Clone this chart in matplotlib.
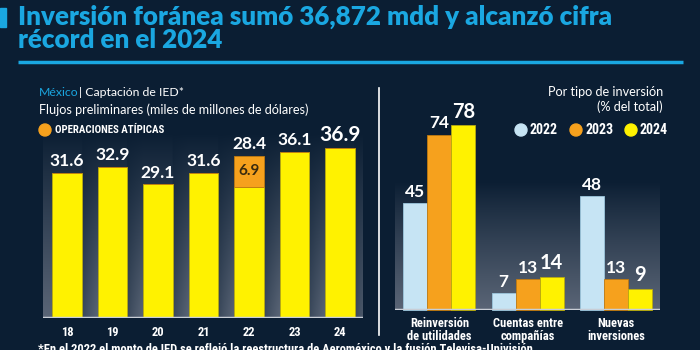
import numpy as np
import matplotlib
matplotlib.use("Agg")
import matplotlib.pyplot as plt
from matplotlib import font_manager
from matplotlib.colors import to_rgb
from matplotlib.patches import Circle, Rectangle

# ---- data ----
years = ["18", "19", "20", "21", "22", "23", "24"]
flows = [31.6, 32.9, 29.1, 31.6, 28.4, 36.1, 36.9]
atypical = [0, 0, 0, 0, 6.9, 0, 0]

categories = ["Reinversión\nde utilidades", "Cuentas entre\ncompañías", "Nuevas\ninversiones"]
legend_years = ["2022", "2023", "2024"]
share_2022 = [45, 7, 48]
share_2023 = [74, 13, 13]
share_2024 = [78, 14, 9]

BG = "#0b1e33"
CYAN = "#1aa7e1"
YELLOW = "#fff200"
ORANGE = "#f6a11d"
LBLUE = "#c6e4f4"
GREY = "#5a6576"
BASE = "#c9ced6"

names = {f.name for f in font_manager.fontManager.ttflist}
COND = next((n for n in ["Liberation Sans Narrow", "Roboto Condensed", "Open Sans Condensed"]
             if n in names), "Liberation Sans")
MAIN = "Lato" if "Lato" in names else "DejaVu Sans"

W, H = 700, 350
fig = plt.figure(figsize=(7, 3.5), dpi=100, facecolor=BG)


def box(x0, y0, x1, y1):
    return [x0 / W, 1 - y1 / H, (x1 - x0) / W, (y1 - y0) / H]


def fit(t, width):
    r = fig.canvas.get_renderer()
    w = t.get_window_extent(r).width
    t.set_fontsize(t.get_fontsize() * width / w)


def panel_bg(ax, xlim, ytop, bar_pos, bar_w, shadow=True):
    nx, ny = 400, 200
    xs = np.linspace(xlim[0], xlim[1], nx)
    t = np.linspace(0, 1, ny)[:, None]
    c0, c1 = np.array(to_rgb(BG)), np.array(to_rgb(GREY))
    fac = np.ones(nx)
    if shadow:
        gap = 1 - bar_w
        for p in bar_pos:
            d = xs - (p + bar_w / 2)
            m = (d >= 0) & (d <= gap)
            fac[m] = 0.55 + 0.45 * (d[m] / gap) ** 0.8
    v = (t ** 0.9) * fac[None, :]
    img = c0 + (c1 - c0) * v[..., None]
    ax.imshow(img, extent=[xlim[0], xlim[1], 0, ytop], origin="upper",
              aspect="auto", zorder=0, interpolation="bilinear")


# ---- overlay in pixel coordinates ----
ov = fig.add_axes([0, 0, 1, 1])
ov.set_xlim(0, W)
ov.set_ylim(H, 0)
ov.axis("off")
ov.patch.set_alpha(0)
ov.set_zorder(10)

ov.add_patch(Rectangle((0, 8), 6, 19, color=CYAN))
t1 = ov.text(18, 17, "Inversión foránea sumó 36,872 mdd y alcanzó cifra", color=CYAN,
             fontsize=18, fontweight="heavy", family=MAIN, va="center", ha="left")
fit(t1, 594)
ov.text(18, 40, "récord en el 2024", color=CYAN, fontsize=t1.get_fontsize(),
        fontweight="heavy", family=MAIN, va="center", ha="left")
ov.plot([18, 683], [62, 62], color=CYAN, lw=2.5, solid_capstyle="butt")

# left header
tm = ov.text(39, 92, "México", color=CYAN, fontsize=9.5, family=MAIN, va="center")
fit(tm, 40)
xe = tm.get_window_extent(fig.canvas.get_renderer()).x1
ov.text(xe, 92, "| Captación de IED*", color="white", fontsize=tm.get_fontsize(),
        family=MAIN, va="center")
tf = ov.text(39, 110, "Flujos preliminares (miles de millones de dólares)", color="white",
             fontsize=9.5, family=MAIN, va="center")
fit(tf, 271)
ov.add_patch(Circle((45, 130), 6, color=ORANGE))
to = ov.text(55, 130, "OPERACIONES ATÍPICAS", color="white", fontsize=9, family=COND,
             fontweight="bold", va="center")
fit(to, 110)

# separator
ov.plot([379, 379], [88, 335], color="white", lw=1.2)

# right header / legend
tp = ov.text(663, 92, "Por tipo de inversión", color="white", fontsize=9.5, family=MAIN,
             ha="right", va="center")
fit(tp, 115)
ov.text(663, 107, "(% del total)", color="white", fontsize=tp.get_fontsize(), family=MAIN,
        ha="right", va="center")
for i, (lab, col) in enumerate(zip(legend_years, [LBLUE, ORANGE, YELLOW])):
    cx = 521 + 55 * i
    ov.add_patch(Circle((cx, 130), 6, color=col))
    ov.text(cx + 9, 130, lab, color="white", fontsize=10, family=COND, fontweight="bold",
            va="center")

ov.text(38, 343, "*En el 2022 el monto de IED se reflejó la reestructura de Aeroméxico y la "
        "fusión Televisa-Univisión.", color="white", fontsize=9, family=COND,
        fontweight="bold", va="top")

# ---- left chart ----
ax1 = fig.add_axes(box(43, 133, 363, 318))
xpos = np.arange(len(years))
bw = 0.64
xl = (-0.527, 6.505)
ytop1 = 185 / 4.6
ax1.set_xlim(*xl)
ax1.set_ylim(0, ytop1)
ax1.patch.set_alpha(0)
panel_bg(ax1, xl, ytop1, xpos, bw)
ax1.bar(xpos, flows, bw, color=YELLOW, edgecolor="#b8aa10", lw=0.6, zorder=2)
ax1.bar(xpos, atypical, bw, bottom=flows, color=ORANGE, edgecolor="#c07a10", lw=0.6, zorder=2)
ax1.axhline(0, color=BASE, lw=2.5, zorder=3)
top_i = int(np.argmax(flows))
for i, (v, a) in enumerate(zip(flows, atypical)):
    ax1.annotate(f"{v:.1f}", (i, v + a), xytext=(0, 2.5), textcoords="offset points",
                 ha="center", va="bottom", color="white", fontweight="bold", family=MAIN,
                 fontsize=15 if i == top_i else 12.5, annotation_clip=False)
    if a:
        ax1.text(i, v + a / 2, f"{a:.1f}", ha="center", va="center", color="#3a2a0e",
                 fontweight="bold", family=MAIN, fontsize=11)
ax1.set_xticks(xpos, years)
ax1.tick_params(length=0, pad=6, labelsize=9, labelcolor="white")
for lab in ax1.get_xticklabels():
    lab.set_family(COND)
    lab.set_fontweight("bold")
ax1.set_yticks([])
for s in ax1.spines.values():
    s.set_visible(False)

# ---- right chart ----
ax2 = fig.add_axes(box(395, 183, 660, 310))
gpos = np.arange(len(categories))
bw2 = 0.272
xl2 = (-0.504, 2.499)
ytop2 = 127 / 2.37
ax2.set_xlim(*xl2)
ax2.set_ylim(0, ytop2)
ax2.patch.set_alpha(0)
panel_bg(ax2, xl2, ytop2, gpos, bw2, shadow=False)
series = [(share_2022, LBLUE, "#9cc6dc"), (share_2023, ORANGE, "#c07a10"),
          (share_2024, YELLOW, "#b8aa10")]
for k, (vals, col, ec) in enumerate(series):
    xs = gpos + (k - 1) * bw2
    ax2.bar(xs, vals, bw2, color=col, edgecolor=ec, lw=0.6, zorder=2, clip_on=False)
    for x, v in zip(xs, vals):
        ax2.annotate(f"{v}", (x, v), xytext=(0, 2.5), textcoords="offset points",
                     ha="center", va="bottom", color="white", fontweight="bold",
                     family=MAIN, fontsize=14.5 if k == 2 else 12.5, annotation_clip=False)
ax2.axhline(0, color=BASE, lw=2.5, zorder=3)
ax2.set_xticks(gpos, categories)
ax2.tick_params(length=0, pad=5, labelsize=9, labelcolor="white")
for lab in ax2.get_xticklabels():
    lab.set_family(COND)
    lab.set_fontweight("bold")
    lab.set_linespacing(1.0)
ax2.set_yticks([])
for s in ax2.spines.values():
    s.set_visible(False)

fig.savefig("out.png", dpi=100, facecolor=BG)
